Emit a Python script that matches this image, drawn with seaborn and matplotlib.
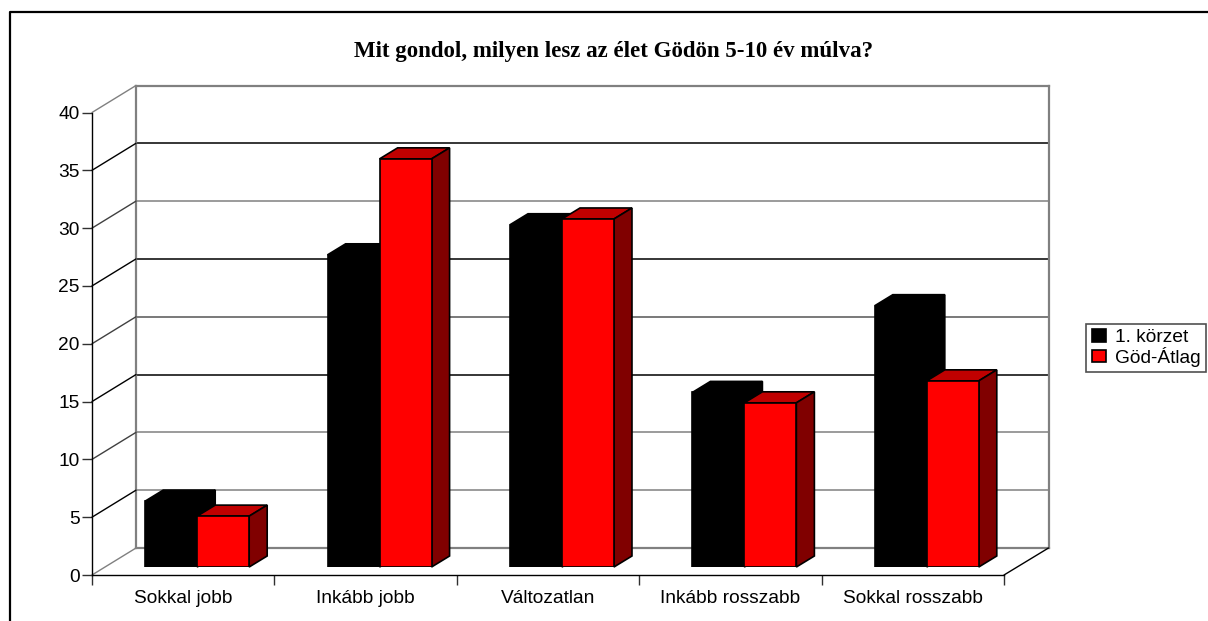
import numpy as np
import pandas as pd
import matplotlib
matplotlib.use("Agg")
import matplotlib.pyplot as plt
import seaborn as sns
from matplotlib.lines import Line2D
from matplotlib.patches import Polygon
from matplotlib.transforms import IdentityTransform

# Adatok
valaszok = ["Sokkal jobb", "Inkább jobb", "Változatlan", "Inkább rosszabb", "Sokkal rosszabb"]
korzet_1 = [5.7, 27.0, 29.6, 15.1, 22.6]
god_atlag = [4.4, 35.3, 30.1, 14.2, 16.1]
y_ticks = [0, 5, 10, 15, 20, 25, 30, 35, 40]
fal_szin = ["#808080", "#808080", "#808080", "#000000", "#555555", "#000000", "#808080", "#000000", "#808080"]
atlo_szin = ["#808080", "#000000", "#404040", "#000000", "#404040", "#000000", "#404040", "#000000", "#808080"]
cim = "Mit gondol, milyen lesz az élet Gödön 5-10 év múlva?"

W, H = 1208, 621
DX, DY = 18, 11  # oszlopok mélysége pixelben

df = pd.DataFrame({
    "valasz": valaszok * 2,
    "szazalek": korzet_1 + god_atlag,
    "sorozat": ["1. körzet"] * 5 + ["Göd-Átlag"] * 5,
})

sns.set_theme(style="white")
plt.rcParams["font.family"] = ["Liberation Sans", "DejaVu Sans"]


def px_axes(fig, left, top, right, bottom, zorder):
    a = fig.add_axes([left / W, 1 - bottom / H, (right - left) / W, (bottom - top) / H], zorder=zorder)
    a.patch.set_alpha(0)
    a.set_xlim(-0.5, 4.5)
    a.set_ylim(0, 40)
    return a


fig = plt.figure(figsize=(W / 100, H / 100), dpi=100, facecolor="white")

# Hátsó fal
ax_wall = px_axes(fig, 136, 85.5, 1048.5, 548, 1)
ax_wall.set_xticks([])
ax_wall.set_yticks([])
for s in ax_wall.spines.values():
    s.set_color("#808080")
    s.set_linewidth(1.6)
for t, c in zip(y_ticks[1:-1], fal_szin[1:-1]):
    ax_wall.axhline(t, color=c, lw=1.1)

# Első sík: tengelyek és feliratok
ax_front = px_axes(fig, 92, 112.5, 1004, 575, 2)
for s in ["top", "right"]:
    ax_front.spines[s].set_visible(False)
for s in ["left", "bottom"]:
    ax_front.spines[s].set_color("black")
    ax_front.spines[s].set_linewidth(1.0)
ax_front.set_yticks(y_ticks)
ax_front.set_xticks(range(5))
ax_front.set_xticklabels(valaszok)
ax_front.set_xticks(np.arange(-0.5, 5), minor=True)
ax_front.tick_params(axis="x", which="major", length=0, labelsize=13.8, pad=10.5, colors="black")
ax_front.tick_params(axis="x", which="minor", length=7, width=1, color="#303030", bottom=True)
ax_front.tick_params(axis="y", length=7, width=1, color="#303030", labelsize=13.8, pad=2, labelcolor="black", left=True)

# Oszlopok
ax = px_axes(fig, 106, 104.5, 1018, 567, 3)
sns.barplot(data=df, x="valasz", y="szazalek", hue="sorozat", order=valaszok,
            palette=["black", "#FF0000"], width=0.57, gap=0, saturation=1,
            edgecolor="black", linewidth=1.2, ax=ax)
ax.set_xlim(-0.5, 4.5)
ax.set_ylim(0, 40)
ax.set_xticks([])
ax.set_yticks([])
ax.set_xlabel("")
ax.set_ylabel("")
ax.patch.set_alpha(0)
for s in ax.spines.values():
    s.set_visible(False)

# 3D oldallapok az oszlopok méretéből
szinek = [("black", "black"), ("#C00000", "#800000")]
for i, cont in enumerate(ax.containers):
    teteje, oldal = szinek[i]
    for bar in cont:
        bar.set_zorder(3 + 2 * i)
        x0, x1 = bar.get_x(), bar.get_x() + bar.get_width()
        (xa, ya), (xb, yb) = ax.transData.transform([(x0, bar.get_height()), (x1, 0)])
        top_pts = [(xa, ya), (xb, ya), (xb + DX, ya + DY), (xa + DX, ya + DY)]
        side_pts = [(xb, ya), (xb + DX, ya + DY), (xb + DX, yb + DY), (xb, yb)]
        for pts, c in ((top_pts, teteje), (side_pts, oldal)):
            ax.add_patch(Polygon(pts, closed=True, facecolor=c, edgecolor="black", lw=1.2,
                                 transform=IdentityTransform(), clip_on=False, zorder=2 + 2 * i))

# Átlós vonalak a falhoz
for t, c in zip(y_ticks, atlo_szin):
    p0 = ax_front.transData.transform((-0.5, t))
    p1 = ax_wall.transData.transform((-0.5, t))
    ax_front.add_line(Line2D([p0[0], p1[0]], [p0[1], p1[1]], color=c, lw=1.0,
                             transform=IdentityTransform(), clip_on=False))
p0 = ax_front.transData.transform((4.5, 0))
p1 = ax_wall.transData.transform((4.5, 0))
ax_front.add_line(Line2D([p0[0], p1[0]], [p0[1], p1[1]], color="black", lw=1.0,
                         transform=IdentityTransform(), clip_on=False))

# Jelmagyarázat
leg = ax.legend(loc="upper left", bbox_to_anchor=(1086 / W, 1 - 323.5 / H), bbox_transform=fig.transFigure,
                frameon=True, fancybox=False, framealpha=1, edgecolor="#505050", fontsize=13.8,
                title=None, borderaxespad=0, borderpad=0.3, labelspacing=0.02,
                handlelength=0.75, handleheight=0.6, handletextpad=0.45)
leg.get_frame().set_linewidth(1.2)
for t in leg.get_texts():
    t.set_color("black")

# Keret és cím
fig.add_artist(Line2D([10 / W, 10 / W, 1], [0, 1 - 12 / H, 1 - 12 / H], color="black", lw=1.6))
fig.text(614 / W, 1 - 51.5 / H, cim, ha="center", va="center", fontsize=16.5,
         fontweight="bold", family="Liberation Serif", color="black")

plt.savefig("out.png", dpi=100)
plt.close()
